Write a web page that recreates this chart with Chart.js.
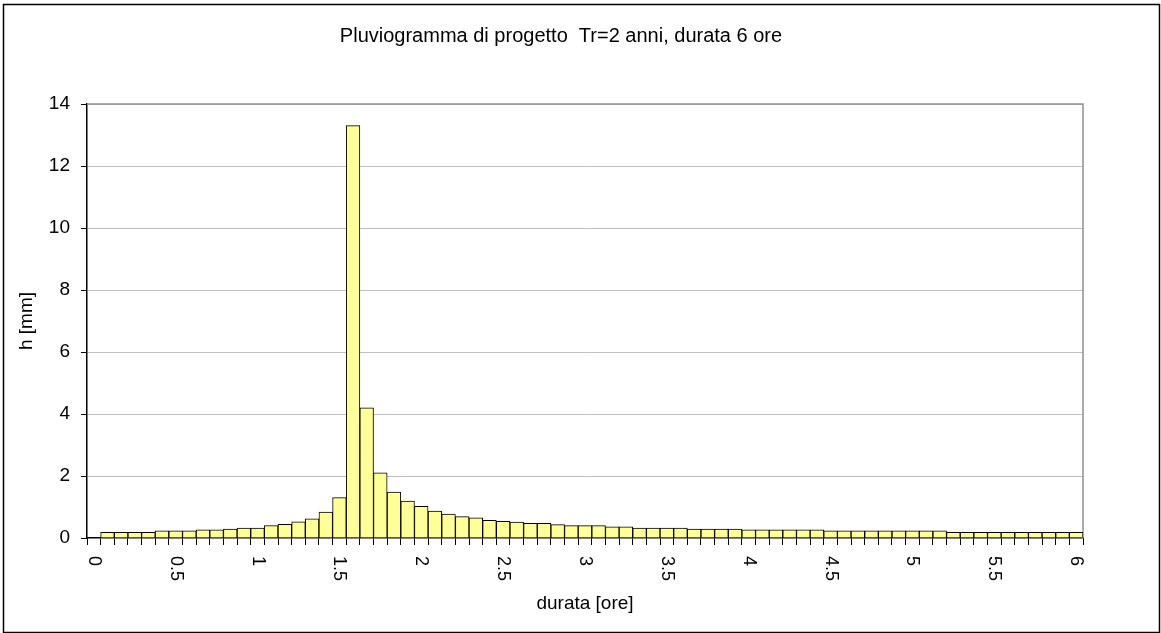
<!DOCTYPE html>
<html>
<head>
<meta charset="utf-8">
<script src="https://cdn.jsdelivr.net/npm/chart.js@4.4.1/dist/chart.umd.min.js"></script>
<style>
  html, body { margin: 0; padding: 0; background: #fff; }
</style>
</head>
<body>
<canvas id="pluvioChart" width="1161" height="633"></canvas>
<script>
// durata in minuti (passo 5 min)
const durataMin = [0, 5, 10, 15, 20, 25, 30, 35, 40, 45, 50, 55,
  60, 65, 70, 75, 80, 85, 90, 95, 100, 105, 110, 115,
  120, 125, 130, 135, 140, 145, 150, 155, 160, 165, 170, 175,
  180, 185, 190, 195, 200, 205, 210, 215, 220, 225, 230, 235,
  240, 245, 250, 255, 260, 265, 270, 275, 280, 285, 290, 295,
  300, 305, 310, 315, 320, 325, 330, 335, 340, 345, 350, 355, 360];

// altezza di pioggia [mm] per ogni intervallo
const hMm = [null,
  0.18, 0.18, 0.18, 0.18, 0.23, 0.23, 0.23, 0.26, 0.26, 0.29, 0.32, 0.32,
  0.40, 0.44, 0.52, 0.62, 0.84, 1.30, 13.30, 4.20, 2.10, 1.48, 1.19, 1.02,
  0.87, 0.77, 0.69, 0.65, 0.57, 0.54, 0.51, 0.47, 0.47, 0.43, 0.40, 0.40,
  0.40, 0.36, 0.36, 0.32, 0.32, 0.32, 0.32, 0.29, 0.29, 0.29, 0.29, 0.26,
  0.26, 0.26, 0.26, 0.26, 0.26, 0.23, 0.23, 0.23, 0.23, 0.23, 0.23, 0.23,
  0.23, 0.23, 0.18, 0.18, 0.18, 0.18, 0.18, 0.18, 0.18, 0.18, 0.18, 0.18];

// etichette asse x (ore), una ogni 30 minuti
const xTickLabels = ['0', '0.5', '1', '1.5', '2', '2.5', '3', '3.5', '4', '4.5', '5', '5.5', '6'];

const FONT = '"Liberation Sans", Arial, sans-serif';
Chart.defaults.font.family = FONT;
Chart.defaults.font.size = 19;
Chart.defaults.color = '#000';

// sfondo bianco + cornice esterna
const frame = {
  id: 'frame',
  beforeDraw(chart) {
    const ctx = chart.ctx;
    ctx.save();
    ctx.fillStyle = '#fff';
    ctx.fillRect(0, 0, chart.width, chart.height);
    ctx.strokeStyle = '#000';
    ctx.lineWidth = 1.5;
    ctx.strokeRect(3.5, 4.5, chart.width - 5, chart.height - 5);
    ctx.restore();
  },
  beforeDatasetsDraw(chart) {
    // bordo grigio sopra e a destra dell'area del grafico
    const {left, top, right, bottom} = chart.chartArea;
    const ctx = chart.ctx;
    ctx.save();
    ctx.strokeStyle = '#909090';
    ctx.lineWidth = 1.5;
    ctx.beginPath();
    ctx.moveTo(left, top);
    ctx.lineTo(right, top);
    ctx.lineTo(right, bottom);
    ctx.stroke();
    ctx.restore();
  }
};

// etichette x ruotate in senso orario (come Excel)
const xLabels = {
  id: 'xLabels',
  afterDraw(chart) {
    const xs = chart.scales.x;
    const ctx = chart.ctx;
    ctx.save();
    ctx.font = '18px ' + FONT;
    ctx.fillStyle = '#000';
    ctx.textAlign = 'left';
    ctx.textBaseline = 'middle';
    let k = 0;
    durataMin.forEach((m, i) => {
      if (m % 30 !== 0) return;
      ctx.save();
      ctx.translate(xs.getPixelForTick(i), xs.top + 18);
      ctx.rotate(Math.PI / 2);
      ctx.fillText(xTickLabels[k++], 0, 0);
      ctx.restore();
    });
    ctx.restore();
  }
};

new Chart(document.getElementById('pluvioChart'), {
  type: 'bar',
  data: {
    labels: durataMin,
    datasets: [{
      label: 'h [mm]',
      data: hMm,
      backgroundColor: '#FFFF99',
      borderColor: '#000',
      borderWidth: 1,
      categoryPercentage: 1.0,
      barPercentage: 1.0
    }]
  },
  options: {
    responsive: false,
    animation: false,
    layout: { padding: { left: 39, right: 78, top: 0, bottom: 0 } },
    plugins: {
      legend: { display: false },
      tooltip: { enabled: false },
      title: {
        display: true,
        text: 'Pluviogramma di progetto  Tr=2 anni, durata 6 ore',
        font: { size: 20, weight: 'normal' },
        color: '#000',
        padding: { top: 24, bottom: 56 }
      }
    },
    scales: {
      x: {
        offset: true,
        grid: { offset: true, drawOnChartArea: false, drawTicks: true, tickLength: 7, color: '#000' },
        border: { color: '#000', width: 1.5 },
        ticks: { autoSkip: false, maxRotation: 0, callback: () => '' },
        title: { display: true, text: 'durata [ore]', font: { size: 19 }, padding: { top: 0, bottom: 17.6 } },
        afterFit: (s) => { s.height = 95; }
      },
      y: {
        min: 0,
        max: 14,
        ticks: { stepSize: 2, padding: 11, font: { size: 19 } },
        grid: {
          color: (c) => (c.tick && c.tick.value === 0 ? 'rgba(0,0,0,0)' : '#c0c0c0'),
          tickColor: '#000',
          tickLength: 6
        },
        border: { color: '#000', width: 1.5 },
        title: { display: true, text: 'h [mm]', font: { size: 19 }, padding: { top: -23.4, bottom: 0 } },
        afterFit: (s) => { s.width = 48; }
      }
    }
  },
  plugins: [frame, xLabels]
});
</script>
</body>
</html>
